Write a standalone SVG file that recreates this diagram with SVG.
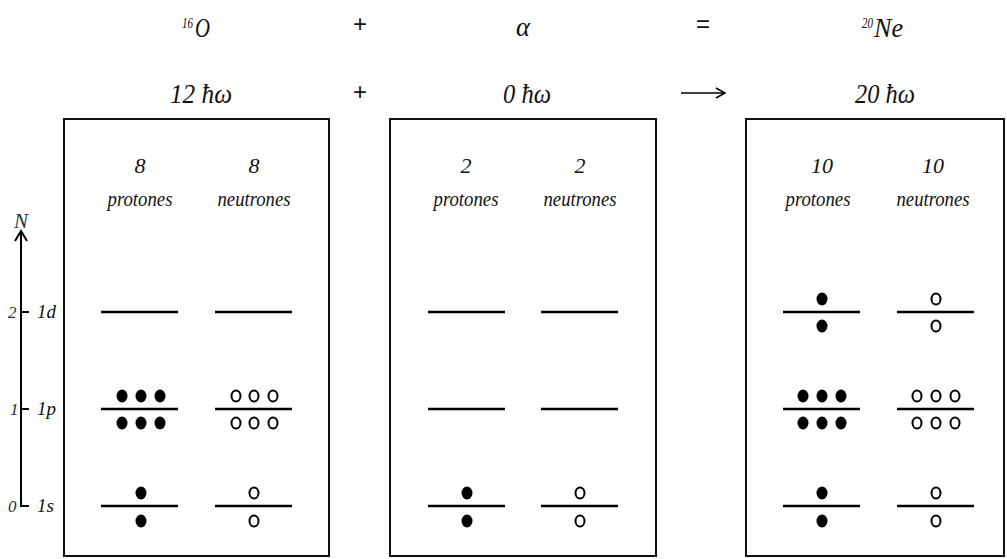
<svg xmlns="http://www.w3.org/2000/svg" width="1007" height="559" viewBox="0 0 1007 559">
<style>
text{font-family:"Liberation Serif","Times New Roman",serif;font-style:italic;fill:#111;}
.hdr{font-size:28px;}
.sup{font-size:14px;}
.op{font-family:"Liberation Sans",Arial,sans-serif;font-style:normal;font-size:24px;}
.num{font-size:22px;text-anchor:middle;}
.lab{font-size:21px;text-anchor:middle;}
.ax{font-size:17px;fill:#2c2c3c;}
.axn{font-size:21px;fill:#2c2c3c;}
.orb{font-size:19px;}
.box{fill:none;stroke:#111;stroke-width:2;}
.lvl{stroke:#000;stroke-width:2.5;}
.p{fill:#000;}
.n{fill:none;stroke:#000;stroke-width:2;}
.axis{stroke:#000;stroke-width:2;fill:none;}
</style>
<rect width="1007" height="559" fill="#fff"/>

<g id="header">
  <text x="182" y="28" class="sup" textLength="11" lengthAdjust="spacingAndGlyphs">16</text>
  <text x="195" y="37" class="hdr" textLength="15" lengthAdjust="spacingAndGlyphs">O</text>
  <text x="360" y="32" class="op" text-anchor="middle">+</text>
  <text x="516" y="36" class="hdr" textLength="14" lengthAdjust="spacingAndGlyphs">α</text>
  <text x="703" y="32" class="op" text-anchor="middle">=</text>
  <text x="862" y="28" class="sup" textLength="11" lengthAdjust="spacingAndGlyphs">20</text>
  <text x="874" y="37" class="hdr" textLength="29" lengthAdjust="spacingAndGlyphs">Ne</text>

  <text x="170" y="103" class="hdr" textLength="62" lengthAdjust="spacingAndGlyphs">12 ħω</text>
  <text x="360" y="100" class="op" text-anchor="middle">+</text>
  <text x="503" y="103" class="hdr" textLength="48" lengthAdjust="spacingAndGlyphs">0 ħω</text>
  <g class="axis"><line x1="681" y1="93" x2="724" y2="93" stroke-width="1.5"/><path d="M716,88 L725,93 L716,98" stroke-width="1.5"/></g>
  <text x="855" y="103" class="hdr" textLength="60" lengthAdjust="spacingAndGlyphs">20 ħω</text>
</g>

<g id="axis">
  <line class="axis" x1="21" y1="231" x2="21" y2="507"/>
  <path class="axis" d="M15,241 L21,231 L27,241"/>
  <line class="axis" x1="21" y1="312" x2="29" y2="312"/>
  <line class="axis" x1="21" y1="409" x2="29" y2="409"/>
  <line class="axis" x1="21" y1="506" x2="29" y2="506"/>
  <text x="14" y="228" class="axn">N</text>
  <text x="8" y="318" class="ax">2</text>
  <text x="10" y="415" class="ax">1</text>
  <text x="8" y="512" class="ax">0</text>
  <text x="37" y="318" class="orb">1d</text>
  <text x="37" y="415" class="orb">1p</text>
  <text x="37" y="512" class="orb">1s</text>
</g>

<g id="box-16O">
  <rect class="box" x="64" y="119" width="265" height="437"/>
  <text x="140" y="173" class="num">8</text>
  <text x="140" y="206" class="lab" textLength="65" lengthAdjust="spacingAndGlyphs">protones</text>
  <text x="254" y="173" class="num">8</text>
  <text x="254" y="206" class="lab" textLength="73" lengthAdjust="spacingAndGlyphs">neutrones</text>
  <line class="lvl" x1="101" y1="312" x2="178" y2="312"/>
  <line class="lvl" x1="215" y1="312" x2="292" y2="312"/>
  <line class="lvl" x1="101" y1="409" x2="178" y2="409"/>
  <line class="lvl" x1="215" y1="409" x2="292" y2="409"/>
  <line class="lvl" x1="101" y1="506" x2="178" y2="506"/>
  <line class="lvl" x1="215" y1="506" x2="292" y2="506"/>
  <g class="p">
    <ellipse cx="122" cy="396" rx="5.5" ry="6.5"/><ellipse cx="141" cy="396" rx="5.5" ry="6.5"/><ellipse cx="160" cy="396" rx="5.5" ry="6.5"/>
    <ellipse cx="122" cy="423" rx="5.5" ry="6.5"/><ellipse cx="141" cy="423" rx="5.5" ry="6.5"/><ellipse cx="160" cy="423" rx="5.5" ry="6.5"/>
    <ellipse cx="141" cy="493" rx="5.5" ry="6.5"/><ellipse cx="141" cy="521" rx="5.5" ry="6.5"/>
  </g>
  <g class="n">
    <ellipse cx="236" cy="396" rx="4.5" ry="5.5"/><ellipse cx="254" cy="396" rx="4.5" ry="5.5"/><ellipse cx="273" cy="396" rx="4.5" ry="5.5"/>
    <ellipse cx="236" cy="423" rx="4.5" ry="5.5"/><ellipse cx="254" cy="423" rx="4.5" ry="5.5"/><ellipse cx="273" cy="423" rx="4.5" ry="5.5"/>
    <ellipse cx="254" cy="493" rx="4.5" ry="5.5"/><ellipse cx="254" cy="521" rx="4.5" ry="5.5"/>
  </g>
</g>

<g id="box-alpha">
  <rect class="box" x="390" y="119" width="266" height="437"/>
  <text x="466" y="173" class="num">2</text>
  <text x="466" y="206" class="lab" textLength="65" lengthAdjust="spacingAndGlyphs">protones</text>
  <text x="580" y="173" class="num">2</text>
  <text x="580" y="206" class="lab" textLength="73" lengthAdjust="spacingAndGlyphs">neutrones</text>
  <line class="lvl" x1="428" y1="312" x2="505" y2="312"/>
  <line class="lvl" x1="541" y1="312" x2="618" y2="312"/>
  <line class="lvl" x1="428" y1="409" x2="505" y2="409"/>
  <line class="lvl" x1="541" y1="409" x2="618" y2="409"/>
  <line class="lvl" x1="428" y1="506" x2="505" y2="506"/>
  <line class="lvl" x1="541" y1="506" x2="618" y2="506"/>
  <g class="p">
    <ellipse cx="467" cy="493" rx="5.5" ry="6.5"/><ellipse cx="467" cy="521" rx="5.5" ry="6.5"/>
  </g>
  <g class="n">
    <ellipse cx="580" cy="493" rx="4.5" ry="5.5"/><ellipse cx="580" cy="521" rx="4.5" ry="5.5"/>
  </g>
</g>

<g id="box-20Ne">
  <rect class="box" x="746" y="119" width="258" height="437"/>
  <text x="822" y="173" class="num">10</text>
  <text x="818" y="206" class="lab" textLength="65" lengthAdjust="spacingAndGlyphs">protones</text>
  <text x="933" y="173" class="num">10</text>
  <text x="933" y="206" class="lab" textLength="73" lengthAdjust="spacingAndGlyphs">neutrones</text>
  <line class="lvl" x1="783" y1="312" x2="860" y2="312"/>
  <line class="lvl" x1="897" y1="312" x2="974" y2="312"/>
  <line class="lvl" x1="783" y1="409" x2="860" y2="409"/>
  <line class="lvl" x1="897" y1="409" x2="974" y2="409"/>
  <line class="lvl" x1="783" y1="506" x2="860" y2="506"/>
  <line class="lvl" x1="897" y1="506" x2="974" y2="506"/>
  <g class="p">
    <ellipse cx="822" cy="299" rx="5.5" ry="6.5"/><ellipse cx="822" cy="326" rx="5.5" ry="6.5"/>
    <ellipse cx="803" cy="396" rx="5.5" ry="6.5"/><ellipse cx="822" cy="396" rx="5.5" ry="6.5"/><ellipse cx="841" cy="396" rx="5.5" ry="6.5"/>
    <ellipse cx="803" cy="423" rx="5.5" ry="6.5"/><ellipse cx="822" cy="423" rx="5.5" ry="6.5"/><ellipse cx="841" cy="423" rx="5.5" ry="6.5"/>
    <ellipse cx="822" cy="493" rx="5.5" ry="6.5"/><ellipse cx="822" cy="521" rx="5.5" ry="6.5"/>
  </g>
  <g class="n">
    <ellipse cx="936" cy="299" rx="4.5" ry="5.5"/><ellipse cx="936" cy="326" rx="4.5" ry="5.5"/>
    <ellipse cx="917" cy="396" rx="4.5" ry="5.5"/><ellipse cx="936" cy="396" rx="4.5" ry="5.5"/><ellipse cx="955" cy="396" rx="4.5" ry="5.5"/>
    <ellipse cx="917" cy="423" rx="4.5" ry="5.5"/><ellipse cx="936" cy="423" rx="4.5" ry="5.5"/><ellipse cx="955" cy="423" rx="4.5" ry="5.5"/>
    <ellipse cx="936" cy="493" rx="4.5" ry="5.5"/><ellipse cx="936" cy="521" rx="4.5" ry="5.5"/>
  </g>
</g>
</svg>
